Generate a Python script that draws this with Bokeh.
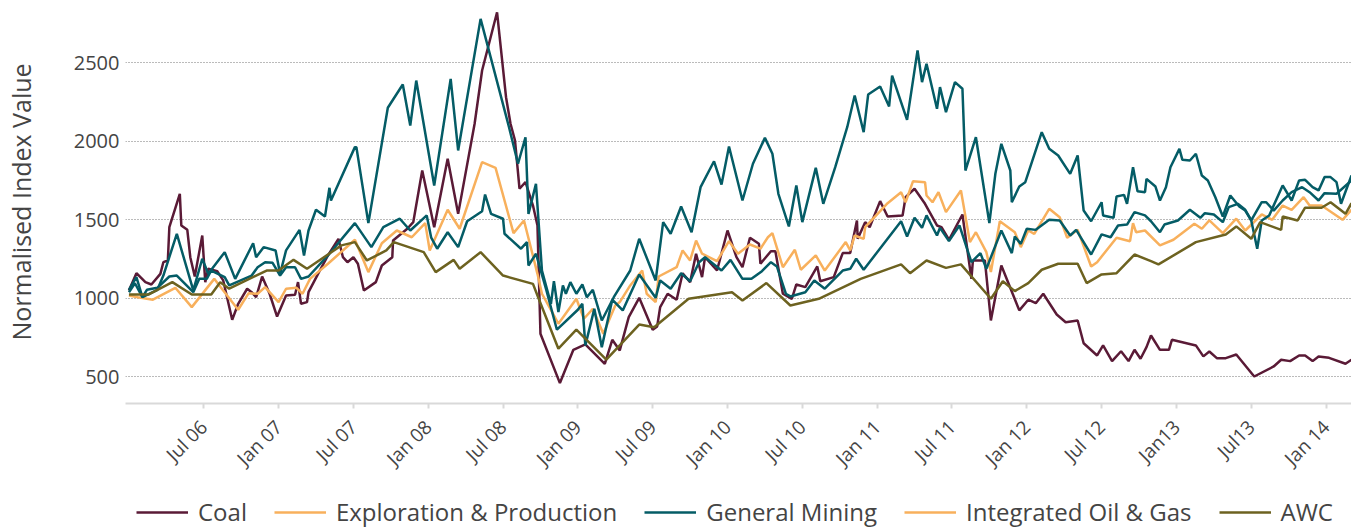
import math
from bokeh.plotting import figure
from bokeh.layouts import column
from bokeh.models import FixedTicker, Legend, LegendItem, Range1d
from bokeh.embed import file_html
from bokeh.resources import INLINE

# time expressed as decimal years
coal_t = [2006.00, 2006.05, 2006.11, 2006.15, 2006.21, 2006.23, 2006.26, 2006.27, 2006.34, 2006.35,
          2006.39, 2006.41, 2006.44, 2006.49, 2006.51, 2006.53, 2006.59, 2006.63, 2006.69, 2006.73,
          2006.79, 2006.82, 2006.85, 2006.89, 2006.94, 2006.99, 2007.05, 2007.11, 2007.13, 2007.15,
          2007.19, 2007.20, 2007.27, 2007.33, 2007.40, 2007.43, 2007.46, 2007.50, 2007.53, 2007.57,
          2007.65, 2007.69, 2007.76, 2007.765, 2007.86, 2007.90, 2007.96, 2008.04, 2008.13, 2008.20,
          2008.31, 2008.36, 2008.46, 2008.52, 2008.55, 2008.58, 2008.61, 2008.65, 2008.70, 2008.73,
          2008.75, 2008.88, 2008.97, 2009.05, 2009.18, 2009.23, 2009.28, 2009.34, 2009.41, 2009.50,
          2009.53, 2009.55, 2009.60, 2009.66, 2009.70, 2009.75, 2009.79, 2009.83, 2009.85, 2009.93,
          2010.00, 2010.06, 2010.10, 2010.15, 2010.21, 2010.22, 2010.29, 2010.32, 2010.37, 2010.43,
          2010.46, 2010.52, 2010.60, 2010.62, 2010.71, 2010.77, 2010.82, 2010.865, 2010.87, 2010.92,
          2010.95, 2011.02, 2011.07, 2011.17, 2011.19, 2011.25, 2011.32, 2011.40, 2011.43, 2011.48,
          2011.57, 2011.63, 2011.64, 2011.72, 2011.76, 2011.83, 2011.95, 2012.01, 2012.06, 2012.11,
          2012.20, 2012.26, 2012.34, 2012.38, 2012.47, 2012.51, 2012.57, 2012.63, 2012.68, 2012.72,
          2012.76, 2012.80, 2012.83, 2012.89, 2012.95, 2012.97, 2013.13, 2013.18, 2013.22, 2013.27,
          2013.33, 2013.40, 2013.52, 2013.65, 2013.70, 2013.76, 2013.82, 2013.86, 2013.91, 2013.95,
          2014.02, 2014.13, 2014.17]
coal_v = [1051, 1161, 1104, 1089, 1157, 1231, 1242, 1454, 1667, 1465,
          1437, 1263, 1140, 1401, 1104, 1189, 1174, 1115, 864, 966,
          1062, 1040, 1008, 1140, 1030, 885, 1019, 1024, 1104, 966,
          977, 1040, 1168, 1274, 1380, 1263, 1231, 1263, 1221, 1051,
          1104, 1210, 1263, 1369, 1444, 1486, 1815, 1454, 1890, 1539,
          2113, 2452, 2823, 2282, 2113, 2006, 1699, 1741, 1592, 1465,
          775, 461, 673, 707, 584, 737, 669, 881, 1004, 801,
          822, 945, 1030, 992, 1161, 1104, 1285, 1136, 1263, 1178,
          1433, 1263, 1199, 1387, 1348, 1221, 1301, 1301, 1030, 998,
          1089, 1072, 1204, 1110, 1136, 1289, 1289, 1497, 1380, 1486,
          1454, 1620, 1522, 1529, 1645, 1699, 1603, 1465, 1454, 1374,
          1535, 1125, 1242, 1242, 860, 1210, 924, 992, 970, 1030,
          898, 849, 860, 715, 637, 701, 601, 664, 601, 673,
          616, 690, 764, 673, 673, 737, 701, 631, 662, 620,
          620, 643, 503, 567, 610, 601, 637, 637, 601, 631,
          622, 584, 610]

ep_t = [2006.00, 2006.06, 2006.16, 2006.31, 2006.42, 2006.57, 2006.63, 2006.73, 2006.80, 2006.86,
        2006.91, 2007.00, 2007.05, 2007.12, 2007.16, 2007.21, 2007.33, 2007.51, 2007.60, 2007.69,
        2007.79, 2007.89, 2007.98, 2008.01, 2008.13, 2008.21, 2008.36, 2008.45, 2008.57, 2008.64,
        2008.73, 2008.76, 2008.84, 2008.87, 2008.99, 2009.04, 2009.10, 2009.17, 2009.25, 2009.28,
        2009.35, 2009.43, 2009.46, 2009.52, 2009.54, 2009.66, 2009.70, 2009.75, 2009.79, 2009.83,
        2009.93, 2010.01, 2010.07, 2010.15, 2010.22, 2010.27, 2010.30, 2010.37, 2010.45, 2010.49,
        2010.59, 2010.65, 2010.79, 2010.82, 2010.85, 2010.91, 2010.92, 2011.07, 2011.16, 2011.19,
        2011.24, 2011.32, 2011.33, 2011.37, 2011.41, 2011.46, 2011.56, 2011.62, 2011.66, 2011.73,
        2011.76, 2011.82, 2011.92, 2011.96, 2012.01, 2012.05, 2012.15, 2012.22, 2012.27, 2012.34,
        2012.43, 2012.47, 2012.60, 2012.69, 2012.71, 2012.73, 2012.79, 2012.89, 2012.98, 2013.12,
        2013.17, 2013.22, 2013.31, 2013.40, 2013.46, 2013.57, 2013.64, 2013.71, 2013.77, 2013.85,
        2013.89, 2013.97, 2014.11, 2014.17]
ep_v = [1019, 1008, 992, 1068, 945, 1125, 1051, 928, 1034, 1030,
        1072, 977, 1062, 1068, 1030, 1125, 1221, 1374, 1168, 1352,
        1433, 1390, 1480, 1306, 1565, 1444, 1868, 1832, 1416, 1497,
        1157, 1030, 892, 839, 998, 871, 934, 775, 955, 977,
        1083, 1178, 1030, 977, 1140, 1199, 1306, 1242, 1369, 1285,
        1238, 1365, 1285, 1344, 1317, 1390, 1416, 1199, 1310, 1183,
        1274, 1178, 1359, 1306, 1401, 1380, 1454, 1607, 1677, 1613,
        1747, 1741, 1656, 1613, 1677, 1550, 1688, 1359, 1422, 1295,
        1168, 1492, 1422, 1327, 1433, 1412, 1571, 1518, 1387, 1437,
        1204, 1231, 1387, 1365, 1480, 1422, 1433, 1338, 1374, 1476,
        1444, 1497, 1416, 1508, 1433, 1535, 1501, 1592, 1565, 1645,
        1592, 1592, 1501, 1565]

gm_t = [2006.00, 2006.05, 2006.09, 2006.19, 2006.23, 2006.32, 2006.43, 2006.49, 2006.53, 2006.64,
        2006.71, 2006.83, 2006.85, 2006.90, 2006.98, 2007.01, 2007.05, 2007.14, 2007.17, 2007.20,
        2007.25, 2007.31, 2007.34, 2007.35, 2007.51, 2007.52, 2007.60, 2007.73, 2007.83, 2007.88,
        2007.92, 2008.04, 2008.15, 2008.20, 2008.35, 2008.54, 2008.60, 2008.65, 2008.67, 2008.72,
        2008.76, 2008.82, 2008.84, 2008.87, 2008.90, 2008.92, 2008.95, 2008.99, 2009.03, 2009.06,
        2009.10, 2009.16, 2009.24, 2009.35, 2009.41, 2009.52, 2009.57, 2009.62, 2009.69, 2009.76,
        2009.82, 2009.91, 2009.96, 2010.01, 2010.10, 2010.17, 2010.25, 2010.30, 2010.34, 2010.41,
        2010.46, 2010.50, 2010.59, 2010.64, 2010.72, 2010.80, 2010.85, 2010.91, 2010.94, 2011.02,
        2011.08, 2011.10, 2011.20, 2011.27, 2011.30, 2011.33, 2011.40, 2011.42, 2011.46, 2011.52,
        2011.57, 2011.59, 2011.66, 2011.75, 2011.79, 2011.83, 2011.89, 2011.90, 2011.95, 2011.99,
        2012.10, 2012.15, 2012.21, 2012.29, 2012.34, 2012.38, 2012.43, 2012.50, 2012.51, 2012.58,
        2012.60, 2012.65, 2012.67, 2012.71, 2012.74, 2012.79, 2012.80, 2012.86, 2012.89, 2012.93,
        2012.96, 2013.02, 2013.04, 2013.09, 2013.13, 2013.17, 2013.21, 2013.26, 2013.31, 2013.36,
        2013.42, 2013.46, 2013.50, 2013.54, 2013.57, 2013.62, 2013.71, 2013.77, 2013.82, 2013.86,
        2013.91, 2013.95, 2013.99, 2014.03, 2014.07, 2014.10, 2014.17]
gm_v = [1055, 1136, 1008, 1055, 1146, 1412, 1051, 1253, 1157, 1295,
        1125, 1352, 1263, 1327, 1306, 1157, 1306, 1437, 1274, 1433,
        1565, 1522, 1705, 1624, 1964, 1964, 1480, 2215, 2363, 2102,
        2388, 1720, 2399, 1943, 2781, 2091, 1858, 2027, 1539, 1730,
        1178, 966, 1110, 913, 1083, 1030, 1104, 1030, 1089, 1008,
        1055, 860, 1008, 1178, 1380, 1115, 1486, 1412, 1586, 1422,
        1709, 1874, 1726, 1968, 1624, 1858, 2023, 1922, 1667, 1459,
        1720, 1486, 1832, 1603, 1836, 2091, 2293, 2059, 2299, 2350,
        2223, 2420, 2138, 2580, 2378, 2495, 2208, 2346, 2187, 2378,
        2336, 1815, 2027, 1480, 1794, 1985, 1815, 1613, 1713, 1741,
        2059, 1953, 1911, 1794, 1911, 1560, 1492, 1613, 1529, 1514,
        1650, 1660, 1603, 1836, 1683, 1677, 1762, 1713, 1624, 1709,
        1836, 1953, 1883, 1879, 1922, 1783, 1752, 1645, 1522, 1656,
        1586, 1560, 1497, 1317, 1497, 1529, 1720, 1624, 1752, 1756,
        1709, 1688, 1773, 1773, 1741, 1603, 1783]

iog_t = [2006.00, 2006.04, 2006.09, 2006.12, 2006.19, 2006.27, 2006.32, 2006.43, 2006.47, 2006.52,
         2006.55, 2006.64, 2006.67, 2006.82, 2006.86, 2006.91, 2006.96, 2007.01, 2007.05, 2007.11,
         2007.15, 2007.20, 2007.33, 2007.51, 2007.62, 2007.70, 2007.81, 2007.88, 2007.99, 2008.02,
         2008.06, 2008.13, 2008.20, 2008.26, 2008.36, 2008.38, 2008.42, 2008.50, 2008.51, 2008.62,
         2008.66, 2008.67, 2008.72, 2008.79, 2008.86, 2009.00, 2009.03, 2009.05, 2009.11, 2009.16,
         2009.23, 2009.30, 2009.41, 2009.52, 2009.55, 2009.62, 2009.69, 2009.75, 2009.81, 2009.85,
         2009.96, 2010.02, 2010.10, 2010.16, 2010.23, 2010.29, 2010.33, 2010.39, 2010.42, 2010.52,
         2010.58, 2010.65, 2010.77, 2010.82, 2010.86, 2010.91, 2011.16, 2011.20, 2011.25, 2011.30,
         2011.33, 2011.40, 2011.42, 2011.48, 2011.55, 2011.63, 2011.69, 2011.73, 2011.83, 2011.90,
         2011.92, 2011.96, 2012.00, 2012.06, 2012.15, 2012.22, 2012.29, 2012.33, 2012.43, 2012.50,
         2012.56, 2012.61, 2012.67, 2012.72, 2012.79, 2012.83, 2012.89, 2012.92, 2013.01, 2013.09,
         2013.16, 2013.19, 2013.25, 2013.31, 2013.35, 2013.41, 2013.46, 2013.50, 2013.57, 2013.60,
         2013.65, 2013.71, 2013.77, 2013.84, 2013.89, 2013.95, 2013.99, 2014.07, 2014.17]
iog_v = [1040, 1097, 1008, 1055, 1068, 1140, 1146, 1040, 1125, 1125,
         1178, 1136, 1083, 1146, 1199, 1231, 1227, 1146, 1199, 1199,
         1125, 1140, 1274, 1480, 1327, 1454, 1508, 1433, 1529, 1387,
         1317, 1422, 1327, 1492, 1556, 1662, 1539, 1508, 1412, 1317,
         1359, 1210, 1285, 1051, 801, 928, 966, 701, 934, 690,
         992, 924, 1153, 1004, 1115, 1062, 1161, 1110, 1231, 1263,
         1178, 1246, 1125, 1125, 1174, 1231, 1204, 1030, 1013, 1040,
         1115, 1062, 1178, 1189, 1253, 1183, 1492, 1395, 1514, 1450,
         1529, 1401, 1450, 1365, 1465, 1231, 1289, 1189, 1433, 1289,
         1395, 1348, 1444, 1437, 1501, 1497, 1401, 1437, 1280, 1408,
         1390, 1465, 1471, 1550, 1529, 1492, 1422, 1471, 1497, 1565,
         1514, 1543, 1535, 1486, 1582, 1603, 1565, 1497, 1613, 1613,
         1560, 1624, 1677, 1709, 1677, 1624, 1671, 1667, 1752]

awc_t = [2006.00, 2006.13, 2006.29, 2006.42, 2006.55, 2006.61, 2006.67, 2006.92, 2007.00, 2007.10,
         2007.19, 2007.33, 2007.42, 2007.51, 2007.59, 2007.72, 2007.77, 2007.97, 2008.05, 2008.17,
         2008.21, 2008.35, 2008.50, 2008.70, 2008.73, 2008.87, 2008.99, 2009.19, 2009.41, 2009.51,
         2009.74, 2010.03, 2010.10, 2010.26, 2010.42, 2010.61, 2010.89, 2011.16, 2011.22, 2011.33,
         2011.46, 2011.56, 2011.76, 2011.84, 2011.92, 2012.01, 2012.10, 2012.21, 2012.34, 2012.40,
         2012.50, 2012.60, 2012.72, 2012.83, 2012.88, 2013.13, 2013.33, 2013.40, 2013.50, 2013.56,
         2013.70, 2013.71, 2013.81, 2013.86, 2013.97, 2014.03, 2014.13, 2014.17]
awc_v = [1025, 1025, 1104, 1025, 1025, 1104, 1062, 1178, 1178, 1246,
         1189, 1280, 1338, 1359, 1242, 1306, 1359, 1295, 1168, 1246,
         1189, 1295, 1146, 1093, 1019, 680, 801, 610, 834, 817,
         998, 1040, 987, 1098, 955, 998, 1125, 1217, 1161, 1242,
         1195, 1217, 998, 1110, 1047, 1098, 1183, 1221, 1221, 1098,
         1153, 1161, 1280, 1238, 1217, 1359, 1408, 1459, 1380, 1486,
         1437, 1522, 1497, 1578, 1578, 1613, 1539, 1607]

y_ticks = [500, 1000, 1500, 2000, 2500]
x_tick_pos = [2006.5, 2007.0, 2007.5, 2008.0, 2008.5, 2009.0, 2009.5, 2010.0,
              2010.5, 2011.0, 2011.5, 2012.0, 2012.5, 2013.0, 2013.5, 2014.0]
x_tick_labels = ["Jul 06", "Jan 07", "Jul 07", "Jan 08", "Jul 08", "Jan 09", "Jul 09", "Jan 10",
                 "Jul 10", "Jan 11", "Jul 11", "Jan 12", "Jul 12", "Jan13", "Jul13", "Jan 14"]
legend_labels = ["Coal", "Exploration & Production", "General Mining", "Integrated Oil & Gas", "AWC"]

C_COAL = "#5a1a36"
C_ORANGE = "#f8b05c"
C_TEAL = "#045c66"
C_OLIVE = "#6d6220"
legend_colors = [C_COAL, C_ORANGE, C_TEAL, C_ORANGE, C_OLIVE]
TXT = "#444444"
FONT = "Open Sans"
LW = 2.5

p = figure(width=1351, height=489, output_backend="svg", toolbar_location=None,
           x_range=Range1d(2005.977, 2014.17), y_range=Range1d(331, 2898),
           min_border_left=122, min_border_right=0, min_border_top=0, min_border_bottom=86)
p.outline_line_color = None
p.xgrid.grid_line_color = None
p.ygrid.grid_line_color = "#777777"
p.ygrid.grid_line_dash = "1 2"
p.ygrid.grid_line_width = 1

p.yaxis.ticker = FixedTicker(ticks=y_ticks)
p.yaxis.axis_line_color = None
p.yaxis.major_tick_line_color = None
p.yaxis.minor_tick_line_color = None
p.yaxis.major_label_text_font = FONT
p.yaxis.major_label_text_font_size = "20px"
p.yaxis.major_label_text_color = TXT
p.yaxis.major_label_standoff = 0
p.yaxis.axis_label = "Normalised Index Value"
p.yaxis.axis_label_text_font = FONT
p.yaxis.axis_label_text_font_style = "normal"
p.yaxis.axis_label_text_font_size = "25px"
p.yaxis.axis_label_text_color = TXT
p.yaxis.axis_label_standoff = 33

p.xaxis.ticker = FixedTicker(ticks=x_tick_pos)
p.xaxis.major_label_overrides = {t: l for t, l in zip(x_tick_pos, x_tick_labels)}
p.xaxis.major_label_orientation = math.pi / 4
p.xaxis.major_label_text_font = FONT
p.xaxis.major_label_text_font_size = "19px"
p.xaxis.major_label_text_color = TXT
p.xaxis.major_label_standoff = 15
p.xaxis.axis_line_color = "#d9d9d9"
p.xaxis.axis_line_width = 2
p.xaxis.major_tick_line_color = "#d9d9d9"
p.xaxis.major_tick_line_width = 2
p.xaxis.major_tick_in = 0
p.xaxis.major_tick_out = 5
p.xaxis.minor_tick_line_color = None

p.line(coal_t, coal_v, line_color=C_COAL, line_width=LW)
p.line(ep_t, ep_v, line_color=C_ORANGE, line_width=LW)
p.line(gm_t, gm_v, line_color=C_TEAL, line_width=LW)
p.line(iog_t, iog_v, line_color=C_TEAL, line_width=LW)
p.line(awc_t, awc_v, line_color=C_OLIVE, line_width=LW)

# key strip below the chart (its frame is aligned with the chart's frame)
k = figure(width=1351, height=40, output_backend="svg", toolbar_location=None,
           x_range=Range1d(0, 1), y_range=Range1d(0, 1),
           x_axis_location=None, y_axis_location=None,
           min_border_left=0, min_border_right=0, min_border_top=0, min_border_bottom=0)
k.outline_line_color = None
k.xgrid.visible = False
k.ygrid.visible = False
items = []
for lab, col in zip(legend_labels, legend_colors):
    r = k.line(x=[-5, -4], y=[-5, -4], line_color=col, line_width=LW)
    items.append(LegendItem(label=lab, renderers=[r]))
legend = Legend(items=items, location=(11, 1), orientation="horizontal")
legend.label_text_font = FONT
legend.label_text_font_size = "24px"
legend.label_text_color = TXT
legend.glyph_width = 52
legend.glyph_height = 26
legend.label_height = 26
legend.label_standoff = 10
legend.spacing = 27
legend.padding = 0
legend.margin = 0
legend.background_fill_alpha = 0
legend.border_line_alpha = 0
k.add_layout(legend, "center")

layout = column(p, k, spacing=0)
open("out.html", "w").write(file_html(layout, INLINE))
